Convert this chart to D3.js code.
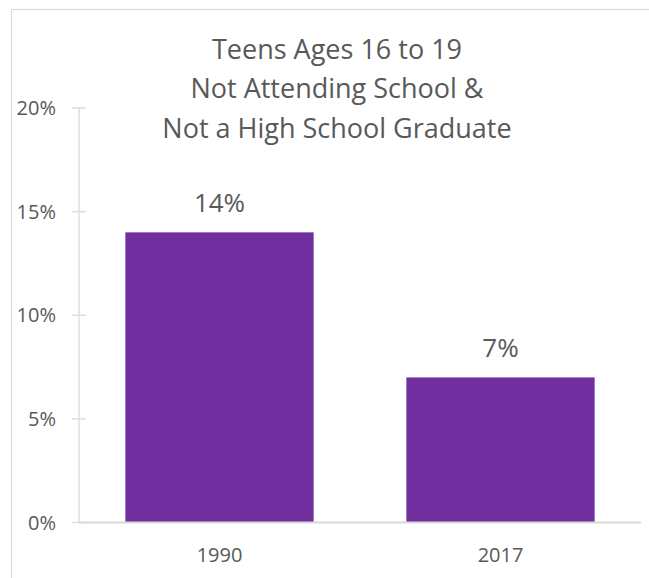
<!DOCTYPE html>
<html>
<head>
<meta charset="utf-8">
<script src="https://cdn.jsdelivr.net/npm/d3@7"></script>
<style>
  body { margin: 0; background: #fff; }
  text { font-family: "Open Sans", "Noto Sans", sans-serif; fill: #595959; }
</style>
</head>
<body>
<div id="chart"></div>
<script>
const categories = ["1990", "2017"];
const values = [0.14, 0.07];
const valueLabels = ["14%", "7%"];
const yTicks = [0, 0.05, 0.10, 0.15, 0.20];
const titleLines = ["Teens Ages 16 to 19", "Not Attending School &", "Not a High School Graduate"];

const width = 649,
    height = 578;

const plot = { left: 79, right: 641, top: 108, bottom: 522.5 };

const svg = d3.select("#chart").append("svg")
    .attr("width", width)
    .attr("height", height);

// chart frame (right and bottom edges fall outside the picture)
svg.append("rect")
    .attr("x", 11.5)
    .attr("y", 9.5)
    .attr("width", 700)
    .attr("height", 700)
    .style("fill", "none")
    .style("stroke", "#d9d9d9")
    .style("stroke-width", 1.2);

const x = d3.scaleBand()
    .domain(categories)
    .range([plot.left, plot.right])
    .paddingInner(0.33)
    .paddingOuter(0.165);

const y = d3.scaleLinear()
    .domain([0, 0.2])
    .range([plot.bottom, plot.top]);

const fmt = d3.format(".0%");

// y axis line + cross ticks
svg.append("line")
    .attr("x1", plot.left).attr("x2", plot.left)
    .attr("y1", y(0.2)).attr("y2", y(0))
    .style("stroke", "#d9d9d9").style("stroke-width", 1.3);

svg.selectAll(".ytick")
    .data(yTicks)
    .enter().append("line")
    .attr("class", "ytick")
    .attr("x1", plot.left - 7).attr("x2", plot.left + 7)
    .attr("y1", function(d) { return y(d); })
    .attr("y2", function(d) { return y(d); })
    .style("stroke", "#d9d9d9").style("stroke-width", 1.3);

svg.selectAll(".ylabel")
    .data(yTicks)
    .enter().append("text")
    .attr("class", "ylabel")
    .attr("x", 56)
    .attr("y", function(d) { return y(d); })
    .attr("dy", "0.36em")
    .style("text-anchor", "end")
    .style("font-size", "20px")
    .text(function(d) { return fmt(d); });

// bars
svg.selectAll(".bar")
    .data(values)
    .enter().append("rect")
    .attr("class", "bar")
    .attr("x", function(d, i) { return x(categories[i]); })
    .attr("y", function(d) { return y(d); })
    .attr("width", x.bandwidth())
    .attr("height", function(d) { return y(0) - y(d); })
    .style("fill", "#7030a0");

// baseline
svg.append("line")
    .attr("x1", plot.left).attr("x2", plot.right)
    .attr("y1", y(0)).attr("y2", y(0))
    .style("stroke", "#d9d9d9").style("stroke-width", 2);

// value labels
svg.selectAll(".vlabel")
    .data(values)
    .enter().append("text")
    .attr("class", "vlabel")
    .attr("x", function(d, i) { return x(categories[i]) + x.bandwidth() / 2; })
    .attr("y", function(d) { return y(d) - 20; })
    .style("text-anchor", "middle")
    .style("font-size", "26px")
    .text(function(d, i) { return valueLabels[i]; });

// category labels
svg.selectAll(".xlabel")
    .data(categories)
    .enter().append("text")
    .attr("class", "xlabel")
    .attr("x", function(d) { return x(d) + x.bandwidth() / 2; })
    .attr("y", 561.5)
    .style("text-anchor", "middle")
    .style("font-size", "20px")
    .text(function(d) { return d; });

// title
svg.selectAll(".title")
    .data(titleLines)
    .enter().append("text")
    .attr("class", "title")
    .attr("x", 337)
    .attr("y", function(d, i) { return 58.5 + i * 39.5; })
    .style("text-anchor", "middle")
    .style("font-size", "27px")
    .text(function(d) { return d; });
</script>
</body>
</html>
